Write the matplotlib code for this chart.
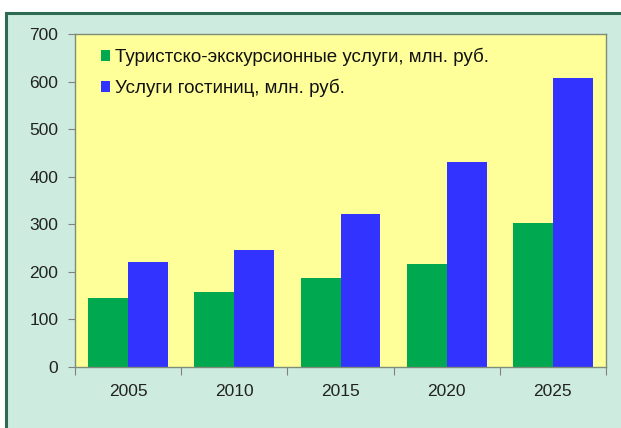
import numpy as np
import matplotlib.pyplot as plt
from matplotlib.patches import Rectangle

years = ["2005", "2010", "2015", "2020", "2025"]
tour_services = [145, 157, 187, 216, 303]
hotel_services = [220, 246, 322, 431, 607]
labels = ["Туристско-экскурсионные услуги, млн. руб.", "Услуги гостиниц, млн. руб."]

W, H = 621, 428
plt.rcParams["font.family"] = ["Liberation Sans", "DejaVu Sans"]
plt.rcParams["font.size"] = 12.5

fig = plt.figure(figsize=(W / 100, H / 100), dpi=100)
fig.patch.set_facecolor("white")

# mint panel with a dark green frame, running off the right and bottom edges
frame = Rectangle((6 / W, -0.1), 1.2, (H - 13) / H + 0.1, transform=fig.transFigure,
                  facecolor="#cdecdf", edgecolor="#2f6b52", linewidth=2.2, zorder=-5)
fig.add_artist(frame)

ax = fig.add_axes([75 / W, (H - 367) / H, 531 / W, 333 / H])
ax.set_zorder(1)
ax.set_facecolor("#ffff99")

x = np.arange(len(years))
w = 0.375
ax.bar(x - w / 2, tour_services, w, color="#00a84f", label=labels[0])
ax.bar(x + w / 2, hotel_services, w, color="#3333ff", label=labels[1])

ax.set_xlim(-0.5, len(years) - 0.5)
ax.set_ylim(0, 700)
ax.set_yticks(np.arange(0, 701, 100))
ax.set_xticks(np.arange(-0.5, len(years), 1))
ax.set_xticklabels([])
ax.set_xticks(x, labels=years, minor=True)
ax.tick_params(axis="x", which="major", direction="out", length=6, color="#808080")
ax.tick_params(axis="x", which="minor", length=0, pad=12, colors="#222222")
ax.tick_params(axis="y", direction="out", length=5, color="#808080", pad=7,
               labelcolor="#222222")

for s in ax.spines.values():
    s.set_color("#7f8c78")
    s.set_linewidth(1.0)

ax.legend(loc="upper left", bbox_to_anchor=(0.035, 0.98), frameon=False,
          handlelength=0.5, handleheight=0.5, handletextpad=0.25,
          labelspacing=0.65, borderaxespad=0, fontsize=13.5, labelcolor="#111111")

fig.savefig("out.png", dpi=100)
